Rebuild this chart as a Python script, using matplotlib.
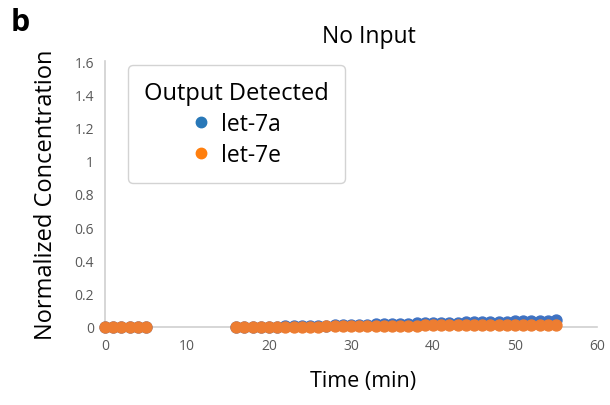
import matplotlib as mpl
import matplotlib.pyplot as plt

mpl.rcParams["font.family"] = ["Open Sans", "DejaVu Sans"]

# time points (min)
time_a = [0, 1, 2, 3, 4, 5] + list(range(16, 56))

# normalized concentration, let-7a
let7a = [0.0, 0.0, 0.0, 0.0, 0.0, 0.002,
         0.0, 0.0, 0.0, 0.001, 0.002, 0.003, 0.004, 0.005, 0.006, 0.007,
         0.008, 0.009, 0.010, 0.011, 0.012, 0.013, 0.015, 0.016, 0.017, 0.018,
         0.019, 0.020, 0.022, 0.023, 0.025, 0.026, 0.026, 0.027, 0.028, 0.029,
         0.030, 0.031, 0.032, 0.033, 0.034, 0.035, 0.036, 0.037, 0.037, 0.040]

# normalized concentration, let-7e
let7e = [0.0, 0.0, 0.0, 0.0, 0.0, 0.0,
         0.0, 0.0, 0.0, 0.0, 0.0, 0.001, 0.001, 0.002, 0.002, 0.003,
         0.003, 0.004, 0.004, 0.005, 0.005, 0.006, 0.006, 0.007, 0.007, 0.008,
         0.008, 0.009, 0.009, 0.010, 0.010, 0.010, 0.011, 0.011, 0.011, 0.012,
         0.012, 0.012, 0.012, 0.013, 0.013, 0.013, 0.013, 0.014, 0.014, 0.014]

series_names = ["let-7a", "let-7e"]
colors = ["#3F72C2", "#ED7D31"]
legend_colors = ["#2878B8", "#FF7F0E"]

fig = plt.figure(figsize=(6.10, 4.06), dpi=100)
ax = fig.add_axes([105 / 610, 1 - 328 / 406, 492 / 610, 266 / 406])

ax.scatter(time_a, let7a, s=62, color=colors[0], zorder=3, clip_on=False)
ax.scatter(time_a, let7e, s=62, color=colors[1], zorder=4, clip_on=False)

ax.set_xlim(0, 60)
ax.set_ylim(0, 1.6)
ax.set_xticks(range(0, 61, 10))
ax.set_yticks([0, 0.2, 0.4, 0.6, 0.8, 1, 1.2, 1.4, 1.6])
ax.set_yticklabels(["0", "0.2", "0.4", "0.6", "0.8", "1", "1.2", "1.4", "1.6"])
ax.tick_params(length=0, labelsize=10, labelcolor="#595959", pad=8)

for side in ["top", "right"]:
    ax.spines[side].set_visible(False)
for side in ["left", "bottom"]:
    ax.spines[side].set_color("#d0d0d0")
    ax.spines[side].set_linewidth(1.2)

ax.set_xlabel("Time (min)", fontsize=15.5, labelpad=12, x=0.525)
ax.set_ylabel("Normalized Concentration", fontsize=17, labelpad=12)
ax.set_title("No Input", fontsize=16.5, pad=14, x=0.537)

fig.text(11 / 610, 1 - 23 / 406, "b", fontsize=22, fontweight="bold",
         va="center", ha="left")

handles = [
    mpl.lines.Line2D([0], [0], linewidth=0, marker="o", markersize=7.5,
                     markerfacecolor=c, markeredgecolor=c)
    for c in legend_colors
]
leg = ax.legend(handles, series_names, title="Output Detected",
                loc="upper left", bbox_to_anchor=(0.047, 0.985),
                fontsize=16.5, title_fontsize=17, frameon=True, fancybox=True,
                edgecolor="#c8c8c8", handlelength=0.8, handletextpad=0.5,
                borderpad=0.7, labelspacing=0.3, borderaxespad=0)
leg.get_frame().set_linewidth(1.0)

fig.savefig("out.png", dpi=100)
